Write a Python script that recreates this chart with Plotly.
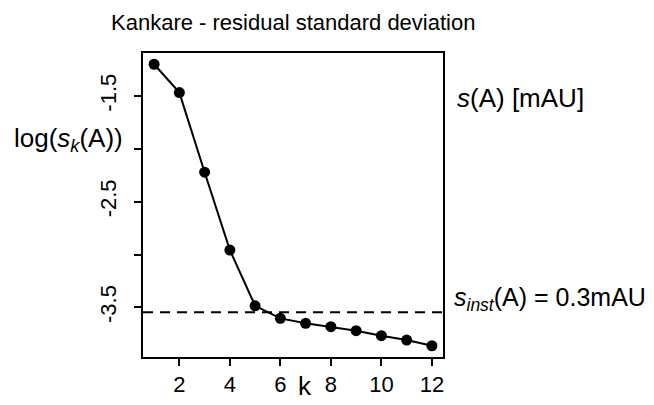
import plotly.graph_objects as go

# number of components k and log residual standard deviation
k_values = [1, 2, 3, 4, 5, 6, 7, 8, 9, 10, 11, 12]
log_sd = [-1.200, -1.468, -2.221, -2.958, -3.485, -3.604,
          -3.651, -3.683, -3.721, -3.768, -3.809, -3.863]

# instrumental noise level (log scale)
log_s_inst = -3.547

# labelled and unlabelled tick positions on the y axis
y_tick_labelled = [-1.5, -2.5, -3.5]
y_tick_text = ["-1.5", "-2.5", "-3.5"]
y_tick_plain = [-2.0, -3.0]
x_tickvals = [2, 4, 6, 8, 10, 12]

FONT = "Liberation Sans, Arial, Helvetica, sans-serif"

def padded(lo, hi, frac=0.04):
    d = (hi - lo) * frac
    return [lo - d, hi + d]

fig = go.Figure()
fig.add_trace(go.Scatter(
    x=k_values, y=log_sd, mode="lines+markers",
    line=dict(color="black", width=2),
    marker=dict(color="black", size=11),
    showlegend=False, hoverinfo="skip",
))

fig.add_shape(type="line", xref="paper", x0=0, x1=1, yref="y",
              y0=log_s_inst, y1=log_s_inst,
              line=dict(color="black", width=2, dash="10px,7px"))

axis_common = dict(
    showline=True, linecolor="black", linewidth=2, mirror=True,
    ticks="outside", ticklen=7, tickwidth=2, tickcolor="black",
    showgrid=False, zeroline=False, automargin=False,
    tickfont=dict(family=FONT, size=22, color="black"),
)

fig.update_layout(
    width=654, height=405,
    margin=dict(l=143, r=211, t=53, b=48),
    paper_bgcolor="white", plot_bgcolor="white",
    font=dict(family=FONT, color="black"),
    xaxis=dict(range=padded(min(k_values), max(k_values)),
               tickvals=x_tickvals, ticklabelstandoff=0, **axis_common),
    yaxis=dict(range=padded(min(log_sd), max(log_sd)),
               tickvals=y_tick_labelled, ticktext=y_tick_text,
               tickangle=-90, ticklabelstandoff=9,
               minor=dict(tickvals=y_tick_plain, ticks="outside", ticklen=7,
                          tickwidth=2, tickcolor="black", showgrid=False),
               **axis_common),
)

annotations = [
    dict(text="Kankare - residual standard deviation", x=0.5, y=1.099,
         xanchor="center", yanchor="middle", font=dict(size=22)),
    dict(text="<i>s</i>(A) [mAU]", x=1.040, y=0.853,
         xanchor="left", yanchor="middle", font=dict(size=26)),
    dict(text="log(<i>s</i><sub><i>k</i></sub>(A))", x=-0.437, y=0.716,
         xanchor="left", yanchor="middle", font=dict(size=26)),
    dict(text="<i>s</i><sub><i>inst</i></sub>(A) = 0.3mAU", x=1.029, y=0.191,
         xanchor="left", yanchor="middle", font=dict(size=25)),
    dict(text="k", x=0.539, y=-0.095, xanchor="center", yanchor="middle",
         font=dict(size=26)),
]
for a in annotations:
    fig.add_annotation(xref="paper", yref="paper", showarrow=False, **a)

fig.write_html("out.html")
